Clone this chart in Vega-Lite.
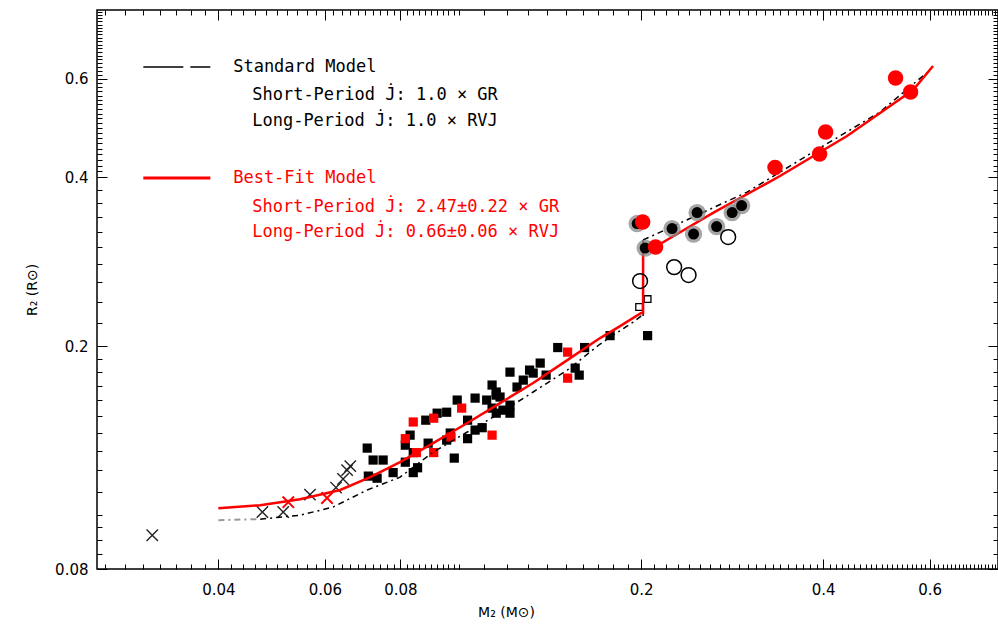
{
  "$schema": "https://vega.github.io/schema/vega-lite/v6.json",
  "width": 901,
  "height": 559,
  "autosize": {"type": "none"},
  "padding": {"left": 97, "top": 10, "right": 0, "bottom": 60},
  "background": "white",
  "config": {"view": {"stroke": "#000", "strokeWidth": 1.5}},
  "datasets": {
    "pts": [
      {"k": "sq", "m": 0.0705, "r": 0.1315}, {"k": "sq", "m": 0.0721, "r": 0.1252}, {"k": "sq", "m": 0.0749, "r": 0.1252},
      {"k": "sq", "m": 0.0708, "r": 0.1172}, {"k": "sq", "m": 0.0732, "r": 0.1162}, {"k": "sq", "m": 0.0778, "r": 0.1189},
      {"k": "sq", "m": 0.084, "r": 0.1189}, {"k": "sq", "m": 0.0815, "r": 0.1241}, {"k": "sq", "m": 0.0854, "r": 0.1213},
      {"k": "sq", "m": 0.083, "r": 0.1387}, {"k": "sq", "m": 0.084, "r": 0.1291}, {"k": "sq", "m": 0.0815, "r": 0.1331},
      {"k": "sq", "m": 0.0881, "r": 0.1475}, {"k": "sq", "m": 0.092, "r": 0.1518}, {"k": "sq", "m": 0.0954, "r": 0.1524},
      {"k": "sq", "m": 0.0993, "r": 0.1602}, {"k": "sq", "m": 0.1063, "r": 0.1615}, {"k": "sq", "m": 0.1111, "r": 0.1602},
      {"k": "sq", "m": 0.1134, "r": 0.1704}, {"k": "sq", "m": 0.1152, "r": 0.1635}, {"k": "sq", "m": 0.1033, "r": 0.1475},
      {"k": "sq", "m": 0.1063, "r": 0.1416}, {"k": "sq", "m": 0.1092, "r": 0.143}, {"k": "sq", "m": 0.1033, "r": 0.1367},
      {"k": "sq", "m": 0.0967, "r": 0.1399}, {"k": "sq", "m": 0.0954, "r": 0.1359}, {"k": "sq", "m": 0.0889, "r": 0.1342},
      {"k": "sq", "m": 0.0982, "r": 0.1262}, {"k": "sq", "m": 0.1214, "r": 0.1797}, {"k": "sq", "m": 0.1308, "r": 0.1812},
      {"k": "sq", "m": 0.1362, "r": 0.1865}, {"k": "sq", "m": 0.1456, "r": 0.1988}, {"k": "sq", "m": 0.1613, "r": 0.1988},
      {"k": "sq", "m": 0.1777, "r": 0.2088}, {"k": "sq", "m": 0.205, "r": 0.2088}, {"k": "sq", "m": 0.1247, "r": 0.169},
      {"k": "sq", "m": 0.1277, "r": 0.1739}, {"k": "sq", "m": 0.1393, "r": 0.1775}, {"k": "sq", "m": 0.158, "r": 0.1775},
      {"k": "sq", "m": 0.1556, "r": 0.1827}, {"k": "sq", "m": 0.1152, "r": 0.1656}, {"k": "sq", "m": 0.1134, "r": 0.155},
      {"k": "sq", "m": 0.1182, "r": 0.1537}, {"k": "sq", "m": 0.1214, "r": 0.1569}, {"k": "sq", "m": 0.1214, "r": 0.1518},
      {"k": "sq", "m": 0.1152, "r": 0.1518}, {"k": "sq", "m": 0.1169, "r": 0.1622}, {"k": "sq", "m": 0.1326, "r": 0.179},
      {"k": "rsq", "m": 0.084, "r": 0.1464}, {"k": "rsq", "m": 0.0908, "r": 0.1487}, {"k": "rsq", "m": 0.101, "r": 0.155},
      {"k": "rsq", "m": 0.0815, "r": 0.1367}, {"k": "rsq", "m": 0.085, "r": 0.1291}, {"k": "rsq", "m": 0.0908, "r": 0.1291},
      {"k": "rsq", "m": 0.097, "r": 0.1376}, {"k": "rsq", "m": 0.1134, "r": 0.1387}, {"k": "rsq", "m": 0.1512, "r": 0.1951},
      {"k": "rsq", "m": 0.1512, "r": 0.1753},
      {"k": "osq", "m": 0.205, "r": 0.2426}, {"k": "osq", "m": 0.1985, "r": 0.2348},
      {"k": "x", "m": 0.0311, "r": 0.0919}, {"k": "x", "m": 0.0473, "r": 0.1011}, {"k": "x", "m": 0.0512, "r": 0.1011},
      {"k": "x", "m": 0.0567, "r": 0.1086}, {"k": "x", "m": 0.0626, "r": 0.1118}, {"k": "x", "m": 0.0643, "r": 0.1158},
      {"k": "x", "m": 0.0653, "r": 0.1201}, {"k": "x", "m": 0.0661, "r": 0.1221},
      {"k": "rx", "m": 0.0522, "r": 0.1053}, {"k": "rx", "m": 0.0605, "r": 0.1071},
      {"k": "hc", "m": 0.197, "r": 0.331}, {"k": "hc", "m": 0.2031, "r": 0.2992}, {"k": "hc", "m": 0.225, "r": 0.3242},
      {"k": "hc", "m": 0.2475, "r": 0.3463}, {"k": "hc", "m": 0.2442, "r": 0.317}, {"k": "hc", "m": 0.2666, "r": 0.3269},
      {"k": "hc", "m": 0.2828, "r": 0.3463}, {"k": "hc", "m": 0.2932, "r": 0.3564},
      {"k": "oc", "m": 0.2786, "r": 0.3131}, {"k": "oc", "m": 0.2268, "r": 0.2767}, {"k": "oc", "m": 0.2396, "r": 0.2678},
      {"k": "oc", "m": 0.1992, "r": 0.2613},
      {"k": "rc", "m": 0.2012, "r": 0.333}, {"k": "rc", "m": 0.2113, "r": 0.3005}, {"k": "rc", "m": 0.333, "r": 0.4167},
      {"k": "rc", "m": 0.3945, "r": 0.4405}, {"k": "rc", "m": 0.4037, "r": 0.4822}, {"k": "rc", "m": 0.5269, "r": 0.6021},
      {"k": "rc", "m": 0.5579, "r": 0.5683}
    ],
    "std": [
      {"seg": "g", "o": 1, "m": 0.04, "r": 0.0978}, {"seg": "g", "o": 2, "m": 0.0469, "r": 0.0982},
      {"seg": "a", "o": 3, "m": 0.0469, "r": 0.0982}, {"seg": "a", "o": 4, "m": 0.0546, "r": 0.0998},
      {"seg": "a", "o": 5, "m": 0.0619, "r": 0.1032}, {"seg": "a", "o": 6, "m": 0.0705, "r": 0.1107},
      {"seg": "a", "o": 7, "m": 0.0799, "r": 0.1167}, {"seg": "a", "o": 8, "m": 0.0906, "r": 0.1293},
      {"seg": "a", "o": 9, "m": 0.1032, "r": 0.1405}, {"seg": "a", "o": 10, "m": 0.1169, "r": 0.1519},
      {"seg": "a", "o": 11, "m": 0.1326, "r": 0.1656}, {"seg": "a", "o": 12, "m": 0.151, "r": 0.1812},
      {"seg": "a", "o": 13, "m": 0.1711, "r": 0.2017}, {"seg": "a", "o": 14, "m": 0.194, "r": 0.2208},
      {"seg": "a", "o": 15, "m": 0.2, "r": 0.2263}, {"seg": "a", "o": 16, "m": 0.2015, "r": 0.2263},
      {"seg": "v", "o": 17, "m": 0.2015, "r": 0.2263}, {"seg": "v", "o": 18, "m": 0.2015, "r": 0.3093},
      {"seg": "b", "o": 19, "m": 0.2015, "r": 0.3093}, {"seg": "b", "o": 20, "m": 0.232, "r": 0.3317},
      {"seg": "b", "o": 21, "m": 0.2994, "r": 0.3767}, {"seg": "b", "o": 22, "m": 0.3848, "r": 0.444},
      {"seg": "b", "o": 23, "m": 0.4966, "r": 0.5235}, {"seg": "b", "o": 24, "m": 0.6008, "r": 0.6221}
    ],
    "best": [
      {"o": 1, "m": 0.04, "r": 0.1027}, {"o": 2, "m": 0.0469, "r": 0.104}, {"o": 3, "m": 0.0546, "r": 0.1066},
      {"o": 4, "m": 0.0636, "r": 0.1107}, {"o": 5, "m": 0.0713, "r": 0.1167}, {"o": 6, "m": 0.0799, "r": 0.1241},
      {"o": 7, "m": 0.0906, "r": 0.1342}, {"o": 8, "m": 0.1032, "r": 0.1458}, {"o": 9, "m": 0.1169, "r": 0.1582},
      {"o": 10, "m": 0.1326, "r": 0.1718}, {"o": 11, "m": 0.151, "r": 0.1888}, {"o": 12, "m": 0.1711, "r": 0.2067},
      {"o": 13, "m": 0.1846, "r": 0.2171}, {"o": 14, "m": 0.2, "r": 0.2291}, {"o": 15, "m": 0.2015, "r": 0.2291},
      {"o": 16, "m": 0.2015, "r": 0.2944}, {"o": 17, "m": 0.215, "r": 0.3043}, {"o": 18, "m": 0.263, "r": 0.3457},
      {"o": 19, "m": 0.3394, "r": 0.4024}, {"o": 20, "m": 0.438, "r": 0.4743}, {"o": 21, "m": 0.5632, "r": 0.5731},
      {"o": 22, "m": 0.6077, "r": 0.6325}
    ],
    "legline": [
      {"g": "std", "m": 0.03006, "r": 0.63}, {"g": "std", "m": 0.0388, "r": 0.63},
      {"g": "bf", "m": 0.03006, "r": 0.399}, {"g": "bf", "m": 0.0388, "r": 0.399}
    ],
    "legtext": [
      {"c": "k", "m": 0.04232, "r": 0.63, "t": "Standard Model"},
      {"c": "k", "m": 0.0455, "r": 0.5614, "t": "Short-Period J\u0307: 1.0 \u00d7 GR"},
      {"c": "k", "m": 0.0455, "r": 0.5044, "t": "Long-Period  J\u0307: 1.0 \u00d7 RVJ"},
      {"c": "r", "m": 0.04232, "r": 0.399, "t": "Best-Fit Model"},
      {"c": "r", "m": 0.0455, "r": 0.3542, "t": "Short-Period J\u0307: 2.47\u00b10.22 \u00d7 GR"},
      {"c": "r", "m": 0.0455, "r": 0.3196, "t": "Long-Period  J\u0307: 0.66\u00b10.06 \u00d7 RVJ"}
    ],
    "frame": [{"m": 0.1, "r": 0.2}]
  },
  "resolve": {"axis": {"x": "independent", "y": "independent"}},
  "layer": [
    {
      "encoding": {
        "x": {
          "field": "m", "type": "quantitative",
          "scale": {"type": "log", "domain": [0.0252, 0.7782], "nice": false, "zero": false},
          "axis": {
            "orient": "bottom",
            "title": "M\u2082 (M\u2299)",
            "titleFont": "DejaVu Sans", "titleFontSize": 14, "titleFontWeight": "normal", "titleColor": "#000",
            "titleX": 409, "titleY": 43, "titleBaseline": "middle", "titleAlign": "center",
            "domain": false, "grid": false,
            "values": [0.026,0.028,0.03,0.032,0.034,0.036,0.038,0.04,0.042,0.044,0.046,0.048,0.05,0.052,0.054,0.056,0.058,0.06,0.062,0.064,0.066,0.068,0.07,0.072,0.074,0.076,0.078,0.08,0.082,0.084,0.086,0.088,0.09,0.092,0.094,0.096,0.098,0.1,0.11,0.12,0.13,0.14,0.15,0.16,0.17,0.18,0.19,0.2,0.21,0.22,0.23,0.24,0.25,0.26,0.27,0.28,0.29,0.3,0.31,0.32,0.33,0.34,0.35,0.36,0.37,0.38,0.39,0.4,0.41,0.42,0.43,0.44,0.45,0.46,0.47,0.48,0.49,0.5,0.51,0.52,0.53,0.54,0.55,0.56,0.57,0.58,0.59,0.6,0.61,0.62,0.63,0.64,0.65,0.66,0.67,0.68,0.69,0.7,0.71,0.72,0.73,0.74,0.75,0.76,0.77],
            "format": "~g",
            "labelExpr": "indexof([0.04,0.06,0.08,0.2,0.4,0.6], datum.value) >= 0 ? datum.label : ''",
            "labelOverlap": false, "labelFlush": false, "labelBound": false,
            "labelFont": "DejaVu Sans", "labelFontSize": 15, "labelColor": "#000", "labelPadding": 23,
            "tickColor": "#000", "tickWidth": 1,
            "tickSize": {"condition": {"test": "indexof([0.04,0.06,0.08,0.2,0.4,0.6], datum.value) >= 0", "value": -10}, "value": -5}
          }
        },
        "y": {
          "field": "r", "type": "quantitative",
          "scale": {"type": "log", "domain": [0.08, 0.7962], "nice": false, "zero": false},
          "axis": {
            "orient": "left",
            "title": "R\u2082 (R\u2299)",
            "titleFont": "DejaVu Sans", "titleFontSize": 14, "titleFontWeight": "normal", "titleColor": "#000",
            "titleX": -65, "titleBaseline": "middle", "titleAlign": "center",
            "domain": false, "grid": false,
            "values": [0.08,0.085,0.09,0.095,0.1,0.11,0.12,0.13,0.14,0.15,0.16,0.17,0.18,0.19,0.2,0.22,0.24,0.26,0.28,0.3,0.32,0.34,0.36,0.38,0.4,0.41,0.42,0.43,0.44,0.45,0.46,0.47,0.48,0.49,0.5,0.51,0.52,0.53,0.54,0.55,0.56,0.57,0.58,0.59,0.6,0.61,0.62,0.63,0.64,0.65,0.66,0.67,0.68,0.69,0.7,0.71,0.72,0.73,0.74,0.75,0.76,0.77,0.78,0.79],
            "format": "~g",
            "labelExpr": "indexof([0.08,0.2,0.4,0.6], datum.value) >= 0 ? datum.label : ''",
            "labelOverlap": false, "labelFlush": false, "labelBound": false,
            "labelFont": "DejaVu Sans", "labelFontSize": 15, "labelColor": "#000", "labelPadding": 19,
            "tickColor": "#000", "tickWidth": 1,
            "tickSize": {"condition": {"test": "indexof([0.08,0.2,0.4,0.6], datum.value) >= 0", "value": -10}, "value": -5}
          }
        }
      },
      "layer": [
        {"data": {"name": "pts"}, "transform": [{"filter": "datum.k == 'sq'"}],
         "mark": {"type": "point", "shape": "square", "filled": true, "color": "#000", "size": 85, "opacity": 1}},
        {"data": {"name": "pts"}, "transform": [{"filter": "datum.k == 'rsq'"}],
         "mark": {"type": "point", "shape": "square", "filled": true, "color": "#ff0000", "size": 85, "opacity": 1}},
        {"data": {"name": "pts"}, "transform": [{"filter": "datum.k == 'osq'"}],
         "mark": {"type": "point", "shape": "square", "filled": false, "color": "#000", "strokeWidth": 1.3, "size": 45, "opacity": 1}},
        {"data": {"name": "pts"}, "transform": [{"filter": "datum.k == 'x'"}],
         "mark": {"type": "point", "shape": "M-1,-1L1,1M-1,1L1,-1", "filled": false, "color": "#222", "strokeWidth": 1.4, "size": 130, "opacity": 1}},
        {"data": {"name": "pts"}, "transform": [{"filter": "datum.k == 'rx'"}],
         "mark": {"type": "point", "shape": "M-1,-1L1,1M-1,1L1,-1", "filled": false, "color": "#ff0000", "strokeWidth": 2, "size": 130, "opacity": 1}},
        {"data": {"name": "std"}, "transform": [{"filter": "datum.seg == 'g'"}],
         "mark": {"type": "line", "color": "#999", "strokeWidth": 2, "strokeDash": [6, 4, 2, 4]},
         "encoding": {"order": {"field": "o", "type": "quantitative"}}},
        {"data": {"name": "std"}, "transform": [{"filter": "datum.seg == 'a' || datum.seg == 'b'"}],
         "mark": {"type": "line", "color": "#000", "strokeWidth": 1.5, "strokeDash": [6, 4, 2, 4]},
         "encoding": {"order": {"field": "o", "type": "quantitative"}, "detail": {"field": "seg"}}},
        {"data": {"name": "std"}, "transform": [{"filter": "datum.seg == 'v'"}],
         "mark": {"type": "line", "color": "#000", "strokeWidth": 1.5},
         "encoding": {"order": {"field": "o", "type": "quantitative"}}},
        {"data": {"name": "best"},
         "mark": {"type": "line", "color": "#ff0000", "strokeWidth": 2.5},
         "encoding": {"order": {"field": "o", "type": "quantitative"}}},
        {"data": {"name": "pts"}, "transform": [{"filter": "datum.k == 'hc'"}],
         "mark": {"type": "point", "shape": "circle", "filled": true, "color": "#888", "size": 300, "opacity": 0.75}},
        {"data": {"name": "pts"}, "transform": [{"filter": "datum.k == 'hc'"}],
         "mark": {"type": "point", "shape": "circle", "filled": true, "color": "#000", "size": 120, "opacity": 1}},
        {"data": {"name": "pts"}, "transform": [{"filter": "datum.k == 'oc'"}],
         "mark": {"type": "point", "shape": "circle", "filled": false, "color": "#000", "strokeWidth": 1.5, "size": 220, "opacity": 1}},
        {"data": {"name": "pts"}, "transform": [{"filter": "datum.k == 'rc'"}],
         "mark": {"type": "point", "shape": "circle", "filled": true, "color": "#ff0000", "size": 240, "opacity": 1}},
        {"data": {"name": "legline"}, "transform": [{"filter": "datum.g == 'std'"}],
         "mark": {"type": "line", "color": "#000", "strokeWidth": 1.5, "strokeDash": [40, 7, 20, 200]},
         "encoding": {}},
        {"data": {"name": "legline"}, "transform": [{"filter": "datum.g == 'bf'"}],
         "mark": {"type": "line", "color": "#ff0000", "strokeWidth": 3},
         "encoding": {}},
        {"data": {"name": "legtext"},
         "mark": {"type": "text", "align": "left", "baseline": "middle", "font": "DejaVu Sans Mono", "fontSize": 17},
         "encoding": {
           "text": {"field": "t"},
           "color": {"field": "c", "type": "nominal", "scale": {"domain": ["k", "r"], "range": ["#000000", "#ff0000"]}, "legend": null}
         }}
      ]
    },
    {
      "data": {"name": "frame"},
      "mark": {"type": "point", "opacity": 0, "size": 1},
      "encoding": {
        "x": {
          "field": "m", "type": "quantitative",
          "scale": {"type": "log", "domain": [0.0252, 0.7782], "nice": false, "zero": false},
          "axis": {
            "orient": "top", "title": null, "labels": false, "domain": false, "grid": false,
            "values": [0.026,0.028,0.03,0.032,0.034,0.036,0.038,0.04,0.042,0.044,0.046,0.048,0.05,0.052,0.054,0.056,0.058,0.06,0.062,0.064,0.066,0.068,0.07,0.072,0.074,0.076,0.078,0.08,0.082,0.084,0.086,0.088,0.09,0.092,0.094,0.096,0.098,0.1,0.11,0.12,0.13,0.14,0.15,0.16,0.17,0.18,0.19,0.2,0.21,0.22,0.23,0.24,0.25,0.26,0.27,0.28,0.29,0.3,0.31,0.32,0.33,0.34,0.35,0.36,0.37,0.38,0.39,0.4,0.41,0.42,0.43,0.44,0.45,0.46,0.47,0.48,0.49,0.5,0.51,0.52,0.53,0.54,0.55,0.56,0.57,0.58,0.59,0.6,0.61,0.62,0.63,0.64,0.65,0.66,0.67,0.68,0.69,0.7,0.71,0.72,0.73,0.74,0.75,0.76,0.77],
            "tickColor": "#000", "tickWidth": 1,
            "tickSize": {"condition": {"test": "indexof([0.04,0.06,0.08,0.2,0.4,0.6], datum.value) >= 0", "value": -10}, "value": -5}
          }
        },
        "y": {
          "field": "r", "type": "quantitative",
          "scale": {"type": "log", "domain": [0.08, 0.7962], "nice": false, "zero": false},
          "axis": {
            "orient": "right", "title": null, "labels": false, "domain": false, "grid": false,
            "values": [0.08,0.085,0.09,0.095,0.1,0.11,0.12,0.13,0.14,0.15,0.16,0.17,0.18,0.19,0.2,0.22,0.24,0.26,0.28,0.3,0.32,0.34,0.36,0.38,0.4,0.41,0.42,0.43,0.44,0.45,0.46,0.47,0.48,0.49,0.5,0.51,0.52,0.53,0.54,0.55,0.56,0.57,0.58,0.59,0.6,0.61,0.62,0.63,0.64,0.65,0.66,0.67,0.68,0.69,0.7,0.71,0.72,0.73,0.74,0.75,0.76,0.77,0.78,0.79],
            "tickColor": "#000", "tickWidth": 1,
            "tickSize": {"condition": {"test": "indexof([0.08,0.2,0.4,0.6], datum.value) >= 0", "value": -10}, "value": -5}
          }
        }
      }
    }
  ]
}
